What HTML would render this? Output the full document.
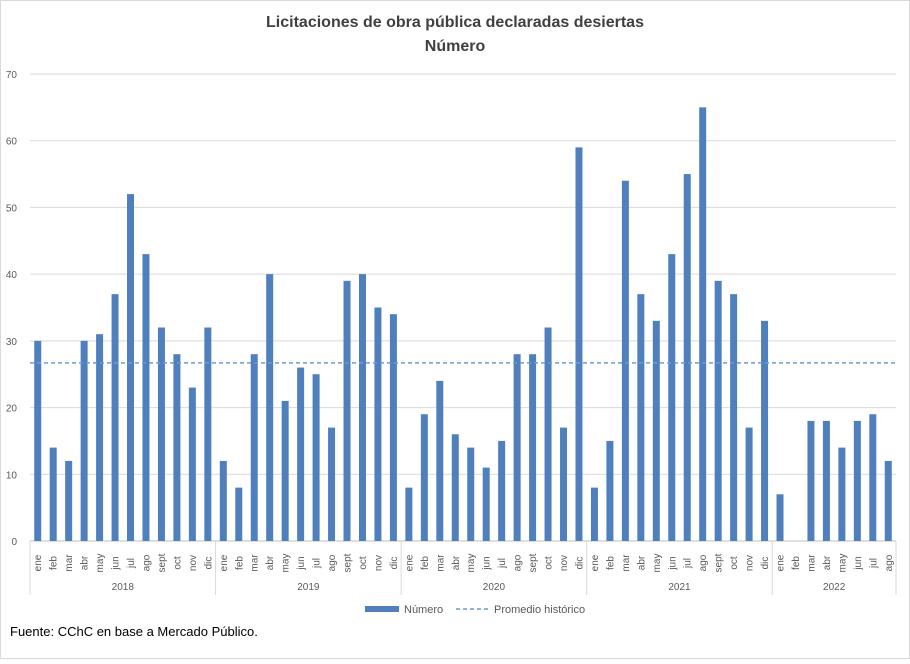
<!DOCTYPE html>
<html><head><meta charset="utf-8"><style>
body{margin:0;background:#fff;font-family:"Liberation Sans",sans-serif;}
svg text{font-family:"Liberation Sans",sans-serif;}
</style></head><body>
<svg id="chart" width="910" height="659" viewBox="0 0 910 659" xmlns="http://www.w3.org/2000/svg">
<rect x="0.5" y="0.5" width="909" height="658" fill="#fff" stroke="#d9d9d9"/>
<text x="455" y="27" text-anchor="middle" font-size="16" font-weight="bold" fill="#404040">Licitaciones de obra pública declaradas desiertas</text>
<text x="455" y="51" text-anchor="middle" font-size="16" font-weight="bold" fill="#404040">Número</text>
<g id="grid"></g><g id="bars"></g><g id="xaxis"></g>
<g>
<rect x="365" y="606" width="34" height="6" fill="#4f7fbd"/>
<text x="404" y="613" font-size="11" fill="#595959">Número</text>
<line x1="456" y1="609" x2="490" y2="609" stroke="#6f9bd1" stroke-width="1.5" stroke-dasharray="4,3"/>
<text x="494" y="613" font-size="11" fill="#595959">Promedio histórico</text>
</g>
<text x="10" y="636" font-size="13" fill="#000">Fuente: CChC en base a Mercado Público.</text>
</svg>
<script>
const years = ["2018","2019","2020","2021","2022"];
const yearCounts = [12,12,12,12,8];
const months = ["ene","feb","mar","abr","may","jun","jul","ago","sept","oct","nov","dic"];
const values = [30,14,12,30,31,37,52,43,32,28,23,32,
 12,8,28,40,21,26,25,17,39,40,35,34,
 8,19,24,16,14,11,15,28,28,32,17,59,
 8,15,54,37,33,43,55,65,39,37,17,33,
 7,0,18,18,14,18,19,12];
const average = [26.7];
const yTicks = [0,10,20,30,40,50,60,70];
const NS="http://www.w3.org/2000/svg";
const L=30,R=896,T=74,B=541,YMAX=70;
const n=values.length, cw=(R-L)/n;
const y=v=>B-(v/YMAX)*(B-T);
const x=i=>L+cw*(i+0.5);
function mk(tag,attrs,parent,text){const e=document.createElementNS(NS,tag);for(const k in attrs)e.setAttribute(k,attrs[k]);if(text!==undefined)e.textContent=text;parent.appendChild(e);return e;}
const grid=document.getElementById('grid'),bars=document.getElementById('bars'),xa=document.getElementById('xaxis');
yTicks.forEach(t=>{
 const l=mk('line',{x1:L,x2:R,y1:y(t),y2:y(t),stroke:t===0?'#bfbfbf':'#d9d9d9','stroke-width':1},grid);
 
 
 const tx=mk('text',{x:17,y:y(t)+4,'text-anchor':'end','font-size':10,fill:'#595959'},grid,String(t));
 
 
});
values.forEach((v,i)=>{
 const r=mk('rect',{x:x(i)-3.5,y:y(v),width:7,height:B-y(v),fill:'#4f7fbd'},bars);
 
 
});
const avg=mk('line',{x1:L,x2:R,y1:y(average[0]),y2:y(average[0]),stroke:'#6f9bd1','stroke-width':1.5,'stroke-dasharray':'4,3'},bars);


let idx=0;
years.forEach((yr,k)=>{
 const start=idx;
 const sx=L+cw*start;
 const s=mk('line',{x1:sx,x2:sx,y1:B,y2:595,stroke:'#d9d9d9'},xa);
 
 
 for(let m=0;m<yearCounts[k];m++){
  const cx=x(idx);
  const t=mk('text',{x:0,y:0,'text-anchor':'middle','font-size':10,fill:'#595959',transform:`translate(${cx+3.5},563) rotate(-90)`},xa,months[m]);
  
  
  idx++;
 }
 const mid=L+cw*(start+yearCounts[k]/2);
 const yt=mk('text',{x:mid,y:590,'text-anchor':'middle','font-size':10,fill:'#595959'},xa,yr);
 
 
});
const e=mk('line',{x1:R,x2:R,y1:B,y2:595,stroke:'#d9d9d9'},xa);


</script>
</body></html>
